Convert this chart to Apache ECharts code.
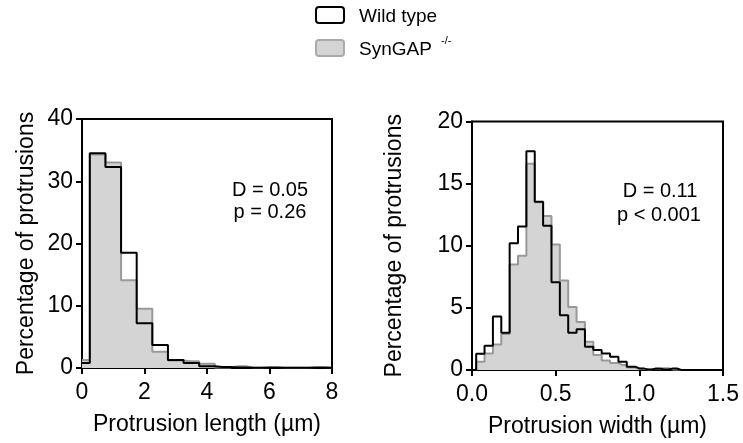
<!DOCTYPE html>
<html>
<head>
<meta charset="utf-8">
<script src="https://cdn.jsdelivr.net/npm/echarts@6/dist/echarts.min.js"></script>
<style>
html,body{margin:0;padding:0;background:#fff;}
#chart{width:743px;height:443px;}
</style>
</head>
<body>
<div id="chart"></div>
<script>
// Protrusion length histogram (bin centres, µm) and percentages
const lengthBins = [0, 0.5, 1, 1.5, 2, 2.5, 3, 3.5, 4, 4.5, 5, 5.5, 6, 6.5, 7, 7.5, 8];
const lengthWildType = [0.8, 34.5, 32.3, 18.5, 7.2, 3.7, 1.3, 0.8, 0.3, 0.15, 0.1, 0.05, 0.05, 0.05, 0.05, 0.05, 0.05];
const lengthSynGAP  = [1.3, 34.3, 33.0, 14.1, 9.5, 2.6, 1.2, 1.1, 0.7, 0.1, 0.3, 0.05, 0.15, 0.05, 0.05, 0.15, 0.05];

// Protrusion width histogram (bin centres, µm) and percentages
const widthBins = [0, 0.05, 0.1, 0.15, 0.2, 0.25, 0.3, 0.35, 0.4, 0.45, 0.5, 0.55, 0.6, 0.65, 0.7, 0.75,
                   0.8, 0.85, 0.9, 0.95, 1.0, 1.05, 1.1, 1.15, 1.2, 1.25, 1.3, 1.35, 1.4, 1.45, 1.5];
const widthWildType = [0, 1.3, 1.95, 4.3, 3.0, 10.2, 11.55, 17.6, 13.55, 11.6, 7.07, 4.4, 3.0, 3.28, 1.87, 1.6,
                       1.33, 1.07, 0.67, 0.27, 0.13, 0.05, 0.1, 0.05, 0.12, 0, 0, 0, 0, 0, 0];
const widthSynGAP  = [0, 0.67, 1.33, 2.05, 2.9, 8.5, 9.2, 16.6, 13.5, 12.4, 10.1, 7.2, 5.07, 3.87, 2.27, 1.2,
                      0.77, 0.56, 0.4, 0.2, 0.1, 0.05, 0.15, 0.15, 0.05, 0, 0, 0, 0, 0, 0];

const lengthTicks = {min: 0, max: 8, interval: 2};
const widthTicks = {min: 0, max: 1.5, interval: 0.5};
const lengthPctTicks = {min: 0, max: 40, interval: 10};
const widthPctTicks = {min: 0, max: 20, interval: 5};

const seriesNames = ['Wild type', 'SynGAP -/-'];
const statsLength = ['D = 0.05', 'p = 0.26'];
const statsWidth = ['D = 0.11', 'p < 0.001'];

const FONT = 'Liberation Sans, Arial, Helvetica, sans-serif';
const pair = (xs, ys) => xs.map((x, i) => [x, ys[i]]);

const axisCommon = {
  axisLine: {show: true, onZero: false, lineStyle: {color: '#000', width: 2}},
  axisTick: {show: true, inside: false, length: 6, lineStyle: {color: '#000', width: 2}},
  splitLine: {show: false},
  nameTextStyle: {color: '#000', fontSize: 23, fontFamily: FONT},
  nameLocation: 'middle'
};

function xAxis(idx, ticks, name, decimals) {
  return Object.assign({}, axisCommon, {
    type: 'value', gridIndex: idx, min: ticks.min, max: ticks.max, interval: ticks.interval,
    name: name, nameGap: 45,
    axisLabel: {color: '#000', fontSize: 23, fontFamily: FONT, margin: 13,
      formatter: v => v.toFixed(decimals)}
  });
}
function yAxis(idx, ticks, gap) {
  return Object.assign({}, axisCommon, {
    type: 'value', gridIndex: idx, min: ticks.min, max: ticks.max, interval: ticks.interval,
    name: 'Percentage of protrusions', nameGap: gap,
    axisLabel: {color: '#000', fontSize: 23, fontFamily: FONT, margin: 9}
  });
}
function graySeries(idx, data) {
  return {
    name: seriesNames[1], type: 'line', xAxisIndex: idx, yAxisIndex: idx, step: 'middle',
    data: data, symbol: 'none', clip: true,
    lineStyle: {color: '#999999', width: 2},
    areaStyle: {color: '#d4d4d4', opacity: 1},
    z: 2
  };
}
function blackSeries(idx, data) {
  return {
    name: seriesNames[0], type: 'line', xAxisIndex: idx, yAxisIndex: idx, step: 'middle',
    data: data, symbol: 'none', clip: true,
    lineStyle: {color: '#000', width: 2},
    z: 3
  };
}
function txt(x, y, s, size, align) {
  return {type: 'text', x: x, y: y, z: 10,
    style: {text: s, fill: '#000', font: size + 'px ' + FONT, align: align || 'center', verticalAlign: 'middle'}};
}

const chart = echarts.init(document.getElementById('chart'), null, {renderer: 'canvas'});
chart.setOption({
  animation: false,
  backgroundColor: '#fff',
  grid: [
    {left: 82, top: 119, width: 250, height: 249, show: true, borderColor: '#000', borderWidth: 2, backgroundColor: 'transparent'},
    {left: 472, top: 121.5, width: 251, height: 250, show: true, borderColor: '#000', borderWidth: 2, backgroundColor: 'transparent'}
  ],
  xAxis: [
    xAxis(0, lengthTicks, 'Protrusion length (\u00b5m)', 0),
    xAxis(1, widthTicks, 'Protrusion width (\u00b5m)', 1)
  ],
  yAxis: [
    yAxis(0, lengthPctTicks, 44),
    yAxis(1, widthPctTicks, 66)
  ],
  series: [
    graySeries(0, pair(lengthBins, lengthSynGAP)),
    blackSeries(0, pair(lengthBins, lengthWildType)),
    graySeries(1, pair(widthBins, widthSynGAP)),
    blackSeries(1, pair(widthBins, widthWildType))
  ],
  graphic: [
    {type: 'rect', shape: {x: 316, y: 7, width: 28, height: 16, r: 3}, z: 10,
      style: {fill: '#fff', stroke: '#000', lineWidth: 2}},
    {type: 'rect', shape: {x: 316, y: 40, width: 28, height: 16, r: 3}, z: 10,
      style: {fill: '#d4d4d4', stroke: '#aaaaaa', lineWidth: 2}},
    txt(359, 17, seriesNames[0], 19, 'left'),
    txt(359, 50, 'SynGAP', 19, 'left'),
    txt(441, 41, '-/-', 11, 'left'),
    txt(270, 190, statsLength[0], 20),
    txt(270, 212, statsLength[1], 20),
    txt(660, 191, statsWidth[0], 20),
    txt(659, 215, statsWidth[1], 20)
  ]
});
</script>
</body>
</html>
